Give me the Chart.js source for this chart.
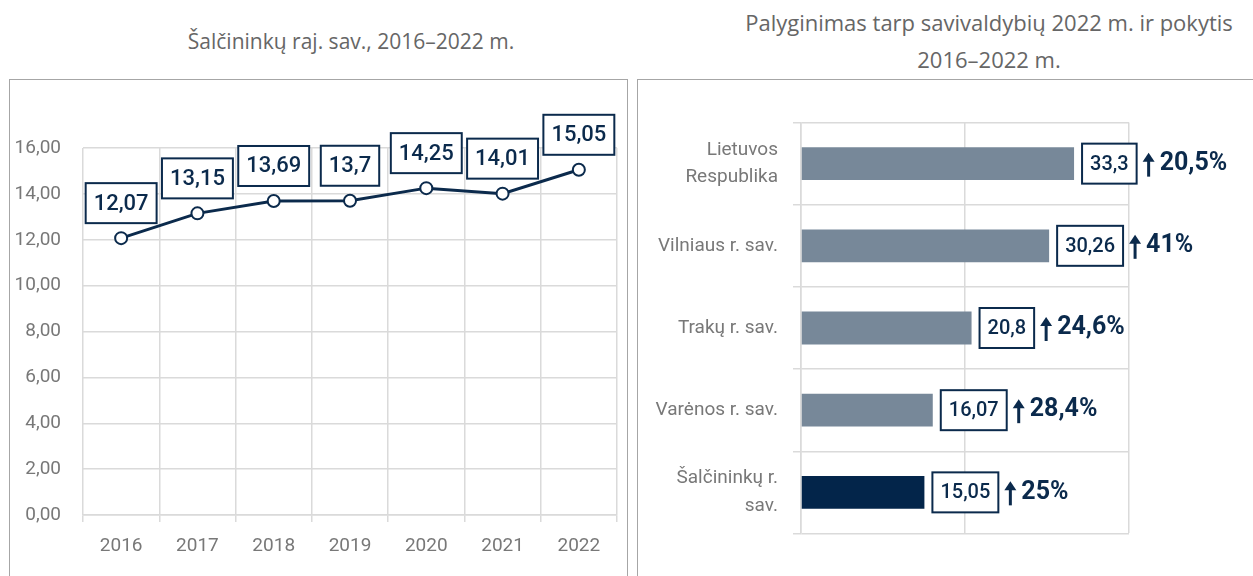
<!DOCTYPE html>
<html>
<head>
<meta charset="utf-8">
<script src="https://cdn.jsdelivr.net/npm/chart.js@4.4.1/dist/chart.umd.min.js"></script>
<style>
  html, body { margin: 0; padding: 0; background: #fff; }
  body { width: 1253px; height: 576px; position: relative; overflow: hidden; font-family: 'Open Sans', sans-serif; }
  .title { position: absolute; color: #666; font-size: 21px; text-align: center; line-height: 37px; white-space: nowrap; }
  .panel { position: absolute; border: 1px solid #a6a6a6; top: 79px; height: 520px; }
  canvas { position: absolute; }
</style>
</head>
<body>
<div class="title" style="left:101px; top:23px; width:500px;">Šalčininkų raj. sav., 2016–2022 m.</div>
<div class="title" style="left:639px; top:4px; width:700px; font-size:22px;">Palyginimas tarp savivaldybių 2022 m. ir pokytis<br>2016–2022 m.</div>
<div class="panel" style="left:9px; width:617px;"></div>
<div class="panel" style="left:637px; width:640px;"></div>
<canvas id="lineChart" width="615" height="496" style="left:10px; top:80px; width:615px; height:496px;"></canvas>
<canvas id="barChart" width="615" height="496" style="left:638px; top:80px; width:615px; height:496px;"></canvas>
<script>
// Left chart: Šalčininkų raj. sav. by year
const years = ['2016', '2017', '2018', '2019', '2020', '2021', '2022'];
const yearValues = [12.07, 13.15, 13.69, 13.7, 14.25, 14.01, 15.05];

// Right chart: comparison in 2022 and change 2016–2022
const municipalities = [
    ['Lietuvos', 'Respublika'],
    'Vilniaus r. sav.',
    'Trakų r. sav.',
    'Varėnos r. sav.',
    ['Šalčininkų r.', 'sav.']
];
const values2022 = [33.3, 30.26, 20.8, 16.07, 15.05];
const changePct = [20.5, 41, 24.6, 28.4, 25];

const NAVY = '#0b2a4c';
const BAR_GREY = '#778899';
const BAR_HIGHLIGHT = '#03254a';
const TICK_GREY = '#787878';
const GRID = '#dadada';
const FONT = "Roboto, 'Open Sans', sans-serif";

const fmt = v => String(v).replace('.', ',');

function drawBox(ctx, text, cx, bottom, opts) {
    ctx.save();
    ctx.font = opts.font;
    const w = ctx.measureText(text).width + opts.pad * 2;
    const h = opts.height;
    const x = opts.align === 'left' ? cx : cx - w / 2;
    ctx.fillStyle = '#fff';
    ctx.fillRect(x, bottom - h, w, h);
    ctx.strokeStyle = NAVY;
    ctx.lineWidth = 2;
    ctx.strokeRect(x, bottom - h, w, h);
    ctx.fillStyle = NAVY;
    ctx.textAlign = 'center';
    ctx.textBaseline = 'middle';
    ctx.fillText(text, x + w / 2, bottom - h / 2 + 1);
    ctx.restore();
    return x + w;
}

const pointLabels = {
    id: 'pointLabels',
    afterDatasetsDraw(chart) {
        const ctx = chart.ctx;
        chart.getDatasetMeta(0).data.forEach((pt, i) => {
            drawBox(ctx, fmt(yearValues[i]), pt.x, pt.y - 15,
                { font: '500 22px ' + FONT, pad: 8, height: 40 });
        });
    }
};

const barLabels = {
    id: 'barLabels',
    afterDatasetsDraw(chart) {
        const ctx = chart.ctx;
        chart.getDatasetMeta(0).data.forEach((bar, i) => {
            const right = drawBox(ctx, fmt(values2022[i]), bar.x + 8, bar.y + 20,
                { font: '500 20px ' + FONT, pad: 8, height: 40, align: 'left' });
            // arrow up
            const ax = right + 12;
            ctx.save();
            ctx.strokeStyle = NAVY;
            ctx.fillStyle = NAVY;
            ctx.lineWidth = 3;
            ctx.beginPath();
            ctx.moveTo(ax, bar.y + 13);
            ctx.lineTo(ax, bar.y - 4);
            ctx.stroke();
            ctx.beginPath();
            ctx.moveTo(ax - 6, bar.y - 2);
            ctx.lineTo(ax, bar.y - 11);
            ctx.lineTo(ax + 6, bar.y - 2);
            ctx.closePath();
            ctx.fill();
            ctx.font = 'bold 25px ' + FONT;
            ctx.textAlign = 'left';
            ctx.textBaseline = 'middle';
            ctx.fillText(fmt(changePct[i]) + '%', ax + 11, bar.y);
            ctx.restore();
        });
    }
};

new Chart(document.getElementById('lineChart'), {
    type: 'line',
    data: {
        labels: years,
        datasets: [{
            data: yearValues,
            borderColor: NAVY,
            borderWidth: 3,
            pointRadius: 6,
            pointBorderWidth: 2,
            pointBackgroundColor: '#fff',
            pointBorderColor: NAVY,
            tension: 0
        }]
    },
    options: {
        responsive: false,
        animation: false,
        layout: { padding: { left: 0, top: 68, right: 3, bottom: 0 } },
        plugins: { legend: { display: false }, tooltip: { enabled: false } },
        scales: {
            x: {
                offset: true,
                grid: { offset: true, color: GRID, lineWidth: 1.5, tickLength: 7 },
                border: { color: GRID, width: 1.5 },
                ticks: { color: TICK_GREY, font: { family: FONT, size: 19 }, padding: 13 },
                afterFit: s => { s.height = 61; }
            },
            y: {
                min: 0,
                max: 16,
                grid: { color: GRID, lineWidth: 1.5, drawTicks: false },
                border: { display: false },
                ticks: {
                    stepSize: 2,
                    color: TICK_GREY,
                    font: { family: FONT, size: 19 },
                    padding: 22,
                    callback: v => v.toFixed(2).replace('.', ',')
                },
                afterFit: s => { s.width = 73; }
            }
        }
    },
    plugins: [pointLabels]
});

new Chart(document.getElementById('barChart'), {
    type: 'bar',
    data: {
        labels: municipalities,
        datasets: [{
            data: values2022,
            backgroundColor: values2022.map((_, i) => i === values2022.length - 1 ? BAR_HIGHLIGHT : BAR_GREY),
            barPercentage: 0.4,
            categoryPercentage: 1
        }]
    },
    options: {
        indexAxis: 'y',
        responsive: false,
        animation: false,
        layout: { padding: { left: 0, top: 37, right: 124, bottom: 16 } },
        plugins: { legend: { display: false }, tooltip: { enabled: false } },
        scales: {
            x: {
                min: 0,
                max: 40,
                grid: { color: GRID, lineWidth: 1.5, drawTicks: false },
                border: { display: false },
                ticks: { display: false, stepSize: 20 },
                afterFit: s => { s.height = 0; }
            },
            y: {
                grid: { color: GRID, lineWidth: 1.5, tickLength: 8 },
                border: { color: GRID, width: 1.5 },
                ticks: {
                    color: TICK_GREY,
                    font: { family: FONT, size: 19, lineHeight: 1.45 },
                    padding: 15
                },
                afterFit: s => { s.width = 163; }
            }
        }
    },
    plugins: [barLabels]
});
</script>
</body>
</html>
